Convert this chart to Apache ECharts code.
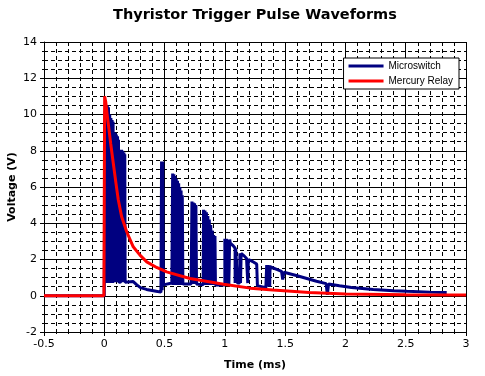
<!DOCTYPE html>
<html>
<head>
<meta charset="utf-8">
<script src="https://cdn.jsdelivr.net/npm/echarts@6/dist/echarts.min.js"></script>
<style>
  html, body { margin: 0; padding: 0; background: #fff; }
  #main { width: 485px; height: 376px; }
</style>
</head>
<body>
<div id="main"></div>
<script>
// data: [time (ms), volts]
const chartTitle = "Thyristor Trigger Pulse Waveforms"
const seriesNames = ["Microswitch", "Mercury Relay"]

const microswitch = [
  [-0.5, 0], [0, 0], [0.005, 10.2], [0.01, 0.7], [0.015, 10.5], [0.02, 0.7], [0.025, 10.5],
  [0.03, 0.7], [0.035, 10.4], [0.04, 0.7], [0.045, 10.0], [0.05, 0.7], [0.055, 9.8],
  [0.06, 0.7], [0.065, 9.7], [0.07, 0.7], [0.073, 9.6], [0.076, 0.75], [0.086, 0.76],
  [0.09, 9.0], [0.095, 0.75], [0.1, 8.9], [0.105, 0.75], [0.11, 8.8], [0.115, 0.75],
  [0.118, 8.6], [0.121, 0.75], [0.138, 0.76],
  [0.143, 8.05], [0.148, 0.75], [0.153, 8.0], [0.158, 0.75], [0.163, 7.9], [0.168, 0.75],
  [0.17, 7.8], [0.173, 0.75], [0.24, 0.78], [0.27, 0.6], [0.3, 0.45], [0.35, 0.35],
  [0.43, 0.25], [0.47, 0.2], [0.475, 7.4], [0.48, 0.3], [0.485, 7.4], [0.49, 0.6],
  [0.5, 0.65], [0.56, 0.7],
  [0.567, 6.75], [0.572, 0.6], [0.577, 6.7], [0.582, 0.6], [0.587, 6.6], [0.592, 0.6],
  [0.597, 6.45], [0.602, 0.6], [0.607, 6.35], [0.612, 0.6], [0.617, 6.2], [0.622, 0.6],
  [0.627, 6.0], [0.632, 0.6], [0.637, 5.8], [0.642, 0.6], [0.647, 5.55], [0.652, 0.65],
  [0.72, 0.65], [0.727, 5.2], [0.733, 0.65], [0.738, 5.15], [0.744, 0.65], [0.749, 5.1],
  [0.755, 0.65], [0.76, 5.0], [0.765, 0.65], [0.82, 0.6],
  [0.823, 4.75], [0.829, 0.6], [0.835, 4.7], [0.841, 0.6], [0.847, 4.6], [0.853, 0.6],
  [0.859, 4.4], [0.865, 0.6], [0.871, 4.2], [0.877, 0.6], [0.883, 3.9], [0.889, 0.6],
  [0.895, 3.6], [0.901, 0.6], [0.907, 3.35], [0.913, 0.6], [0.918, 3.3], [0.922, 0.6],
  [1.0, 0.6], [1.0, 3.15], [1.007, 0.6], [1.013, 3.15], [1.02, 0.6], [1.027, 3.1],
  [1.033, 0.6], [1.04, 3.1], [1.045, 2.9], [1.07, 2.75], [1.085, 2.62], [1.085, 0.7],
  [1.09, 2.6], [1.1, 2.5], [1.105, 0.7], [1.122, 0.7], [1.125, 2.35], [1.13, 0.7],
  [1.135, 2.33], [1.16, 2.2], [1.18, 2.05], [1.19, 0.7], [1.195, 2.0], [1.22, 1.92],
  [1.24, 1.85], [1.264, 1.75], [1.27, 0.55], [1.34, 0.45],
  [1.347, 1.7], [1.352, 0.5], [1.357, 1.7], [1.362, 0.5], [1.367, 1.68], [1.372, 0.5],
  [1.375, 1.6], [1.39, 1.5], [1.43, 1.45], [1.47, 1.35], [1.48, 0.9], [1.49, 1.3],
  [1.5, 1.3], [1.6, 1.1], [1.68, 0.95], [1.76, 0.8], [1.84, 0.67], [1.85, 0.05],
  [1.86, 0.65], [1.95, 0.55], [2.05, 0.45], [2.23, 0.34], [2.4, 0.28], [2.51, 0.25],
  [2.7, 0.2], [2.84, 0.18]
]

const mercuryRelay = [
  [-0.5, 0], [-0.003, 0], [0.003, 11.0], [0.012, 10.7], [0.022, 10.1], [0.033, 9.5],
  [0.053, 8.4], [0.075, 7.3], [0.097, 6.2], [0.116, 5.3], [0.144, 4.36], [0.186, 3.53],
  [0.24, 2.7], [0.296, 2.24], [0.352, 1.87], [0.434, 1.56], [0.517, 1.32], [0.71, 0.95],
  [0.99, 0.64], [1.21, 0.42], [1.4, 0.32], [1.7, 0.18], [2.0, 0.1], [2.5, 0.06], [3.0, 0.04]
]

const xTicks = { min: -0.5, max: 3, step: 0.5 }
const yTicks = { min: -2, max: 14, step: 2 }

const dash = { color: "#000", width: 1, type: [4, 3] }
const solid = { color: "#000", width: 1 }
const labelFont = { color: "#000", fontFamily: "DejaVu Sans", fontSize: 11 }
const nameFont = { color: "#000", fontFamily: "DejaVu Sans", fontSize: 11, fontWeight: "bold" }

const myChart = echarts.init(document.getElementById("main"))

myChart.setOption({
  animation: false,
  backgroundColor: "#fff",
  title: {
    text: chartTitle,
    left: 108, top: 3,
    textStyle: { fontFamily: "DejaVu Sans", fontSize: 14.5, fontWeight: "bold", color: "#000" }
  },
  legend: {
    right: 26, top: 58,
    orient: "vertical",
    backgroundColor: "#fff",
    borderColor: "#000", borderWidth: 1,
    padding: [3, 6, 3, 5],
    itemGap: 5,
    itemWidth: 35, itemHeight: 3,
    icon: "rect",
    textStyle: { fontFamily: "Liberation Sans", fontSize: 10, color: "#000" },
    data: seriesNames
  },
  grid: { left: 44, right: 19, top: 42, bottom: 44, outerBoundsMode: "none" },
  xAxis: {
    type: "value",
    min: xTicks.min, max: xTicks.max, interval: xTicks.step,
    name: "Time (ms)", nameLocation: "middle", nameGap: 28, nameMoveOverlap: false,
    nameTextStyle: nameFont,
    axisLine: { onZero: false, lineStyle: solid },
    axisTick: { length: 4, lineStyle: solid },
    minorTick: { show: true, splitNumber: 5, length: 2, lineStyle: solid },
    axisLabel: Object.assign({ margin: 7 }, labelFont),
    splitLine: { lineStyle: solid },
    minorSplitLine: { show: true, lineStyle: dash }
  },
  yAxis: {
    type: "value",
    min: yTicks.min, max: yTicks.max, interval: yTicks.step,
    name: "Voltage (V)", nameLocation: "middle", nameGap: 26, nameMoveOverlap: false,
    nameTextStyle: nameFont,
    axisLine: { show: true, onZero: false, lineStyle: solid },
    axisTick: { show: true, length: 4, lineStyle: solid },
    minorTick: { show: true, splitNumber: 4, length: 2, lineStyle: solid },
    axisLabel: Object.assign({ margin: 7 }, labelFont),
    splitLine: { lineStyle: solid },
    minorSplitLine: { show: true, lineStyle: dash }
  },
  series: [
    {
      name: seriesNames[0], type: "line", data: microswitch,
      showSymbol: false, color: "#000080",
      lineStyle: { width: 3, color: "#000080" }
    },
    {
      name: seriesNames[1], type: "line", data: mercuryRelay,
      showSymbol: false, color: "#ff0000",
      lineStyle: { width: 3, color: "#ff0000" }
    }
  ]
})
window.onresize = () => myChart.resize()
</script>
</body>
</html>
